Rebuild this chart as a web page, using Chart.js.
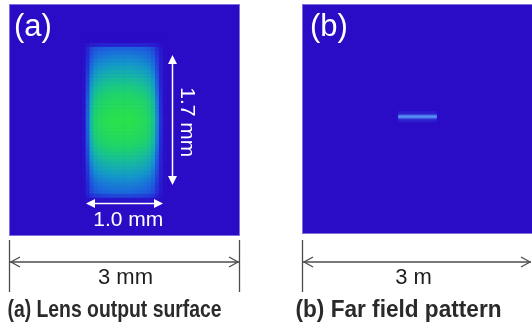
<!DOCTYPE html>
<html>
<head>
<meta charset="utf-8">
<script src="https://cdn.jsdelivr.net/npm/chart.js@4.4.1/dist/chart.umd.min.js"></script>
<style>
  html, body { margin: 0; padding: 0; background: #fff; }
  #wrap { position: relative; width: 532px; height: 331px; overflow: hidden; background: #fff; }
  #boxA { position: absolute; left: 0; top: 0; width: 250px; height: 331px; }
  #boxB { position: absolute; left: 293px; top: 0; width: 240px; height: 331px; }
</style>
</head>
<body>
<div id="wrap">
  <div id="boxA"><canvas id="chartA" width="250" height="331"></canvas></div>
  <div id="boxB"><canvas id="chartB" width="240" height="331"></canvas></div>
</div>
<script>
// panel texts
const panelLabels = ['(a)', '(b)'];
const captions = ['(a) Lens output surface', '(b) Far field pattern'];
const sizeLabels = ['3 mm', '3 m'];
const spotLabels = ['1.0 mm', '1.7 mm'];

// (a) spot on the lens surface, 0.05 mm cells, intensity
const cellMm = 0.05;
const spotColStart = 0.95;   // mm, first column edge
const spotRowStart = 0.45;   // mm, first row edge (from top)
const spotColProfile = [0.05, 0.4, 0.72, 0.86, 0.92, 0.95, 0.97, 0.99, 1.0, 1.0, 1.0,
                        1.0, 1.0, 0.99, 0.97, 0.95, 0.92, 0.87, 0.77, 0.52, 0.22, 0.03];
const spotRowProfile = [0.0, 0.15, 0.4, 0.44, 0.48, 0.52, 0.56, 0.6, 0.64, 0.68, 0.72,
                        0.76, 0.8, 0.84, 0.87, 0.9, 0.93, 0.95, 0.97, 0.98, 1.0, 1.0,
                        0.99, 0.98, 0.96, 0.94, 0.91, 0.88, 0.84, 0.8, 0.76, 0.72, 0.68,
                        0.64, 0.6, 0.56, 0.52, 0.48, 0.45, 0.42, 0.3, 0.06];

// (b) far field line, metres
const farLineX = [1.25, 1.75];
const farLineY = [1.47, 1.47];

const bgBlue = 'rgb(42,12,198)';
const colorStops = [
  [0.0, [42, 12, 198]],
  [0.2, [38, 42, 212]],
  [0.4, [28, 100, 222]],
  [0.55, [20, 150, 202]],
  [0.7, [22, 185, 160]],
  [0.85, [30, 210, 110]],
  [1.0, [42, 224, 78]]
];

const heatColor = (t) => {
  t = Math.max(0, Math.min(1, t));
  for (let i = 1; i < colorStops.length; i++) {
    const [t1, c1] = colorStops[i];
    const [t0, c0] = colorStops[i - 1];
    if (t <= t1) {
      const f = (t - t0) / (t1 - t0);
      const c = c0.map((v, k) => Math.round(v + (c1[k] - v) * f));
      return `rgb(${c[0]},${c[1]},${c[2]})`;
    }
  }
  return 'rgb(42,224,78)';
};

const drawArrowHead = (ctx, x, y, dx, dy, len, half) => {
  ctx.beginPath();
  ctx.moveTo(x, y);
  ctx.lineTo(x - dx * len - dy * half, y - dy * len + dx * half);
  ctx.lineTo(x - dx * len + dy * half, y - dy * len - dx * half);
  ctx.closePath();
  ctx.fill();
};

const drawChevron = (ctx, x, y, dir) => {
  ctx.beginPath();
  ctx.moveTo(x - dir * 9, y - 5);
  ctx.lineTo(x, y);
  ctx.lineTo(x - dir * 9, y + 5);
  ctx.stroke();
};

// paints the blue panel behind the data
const panelBg = {
  id: 'panelBg',
  beforeDatasetsDraw(chart) {
    const { ctx, chartArea: a } = chart;
    ctx.save();
    ctx.fillStyle = bgBlue;
    ctx.fillRect(a.left, a.top, a.right - a.left, a.bottom - a.top);
    ctx.strokeStyle = 'rgba(150,140,225,0.8)';
    ctx.lineWidth = 1;
    ctx.strokeRect(a.left + 0.5, a.top + 0.5, a.right - a.left - 1, a.bottom - a.top - 1);
    ctx.restore();
  }
};

// dimension line + caption below a panel
const makeFooter = (idx, hasRightTick, textShift, capShift, capWidth) => ({
  id: 'footer' + idx,
  afterDraw(chart) {
    const { ctx, chartArea: a, width } = chart;
    const right = hasRightTick ? a.right : width - 1;
    ctx.save();
    ctx.strokeStyle = '#4d4d4d';
    ctx.lineWidth = 1.3;
    ctx.beginPath();
    ctx.moveTo(a.left + 0.5, 240);
    ctx.lineTo(a.left + 0.5, 292);
    if (hasRightTick) {
      ctx.moveTo(a.right - 0.5, 240);
      ctx.lineTo(a.right - 0.5, 292);
    }
    ctx.moveTo(a.left + 1, 262);
    ctx.lineTo(right - 1, 262);
    ctx.stroke();
    drawChevron(ctx, a.left + 2, 262, -1);
    drawChevron(ctx, right - 2, 262, 1);

    const cx = (a.left + a.right) / 2;
    ctx.fillStyle = '#1e1e1e';
    ctx.textAlign = 'center';
    ctx.textBaseline = 'middle';
    ctx.font = '22px "Liberation Sans", Arial, sans-serif';
    ctx.fillText(sizeLabels[idx], cx + textShift, 278);

    // caption: condensed face, squeezed to the width seen in the picture
    ctx.font = 'bold 23px "Liberation Sans", Arial, sans-serif';
    const w = ctx.measureText(captions[idx]).width;
    ctx.translate(cx + capShift, 311);
    ctx.scale(capWidth / w, 1);
    ctx.fillStyle = '#2a2a2a';
    ctx.fillText(captions[idx], 0, 0);
    ctx.restore();
  }
});

// white marks inside panel (a)
const spotMarks = {
  id: 'spotMarks',
  afterDatasetsDraw(chart) {
    const { ctx, chartArea: a, scales } = chart;
    const xs = scales.x, ys = scales.y;
    ctx.save();
    ctx.fillStyle = '#fff';
    ctx.strokeStyle = '#fff';
    ctx.lineWidth = 1.5;
    ctx.font = '31px "Liberation Sans", Arial, sans-serif';
    ctx.textAlign = 'left';
    ctx.textBaseline = 'middle';
    ctx.fillText(panelLabels[0], a.left + 5, a.top + 23);

    // 1.7 mm arrow
    const vx = Math.round(xs.getPixelForValue(2.12)) + 0.5;
    const vy0 = ys.getPixelForValue(0.66), vy1 = ys.getPixelForValue(2.34);
    ctx.beginPath();
    ctx.moveTo(vx, vy0 + 6);
    ctx.lineTo(vx, vy1 - 6);
    ctx.stroke();
    drawArrowHead(ctx, vx, vy0, 0, -1, 9, 4.5);
    drawArrowHead(ctx, vx, vy1, 0, 1, 9, 4.5);
    ctx.save();
    ctx.translate(xs.getPixelForValue(2.31), ys.getPixelForValue(1.53));
    ctx.rotate(Math.PI / 2);
    ctx.font = '21px "Liberation Sans", Arial, sans-serif';
    ctx.textAlign = 'center';
    ctx.fillText(spotLabels[1], 0, 0);
    ctx.restore();

    // 1.0 mm arrow
    const hy = Math.round(ys.getPixelForValue(2.57)) + 0.5;
    const hx0 = xs.getPixelForValue(1.0), hx1 = xs.getPixelForValue(2.0);
    ctx.beginPath();
    ctx.moveTo(hx0 + 6, hy);
    ctx.lineTo(hx1 - 6, hy);
    ctx.stroke();
    drawArrowHead(ctx, hx0, hy, -1, 0, 9, 4.5);
    drawArrowHead(ctx, hx1, hy, 1, 0, 9, 4.5);
    ctx.font = '21px "Liberation Sans", Arial, sans-serif';
    ctx.textAlign = 'center';
    ctx.fillText(spotLabels[0], xs.getPixelForValue(1.55), ys.getPixelForValue(2.8));
    ctx.restore();
  }
};

const labelB = {
  id: 'labelB',
  afterDatasetsDraw(chart) {
    const { ctx, chartArea: a } = chart;
    ctx.save();
    ctx.fillStyle = '#fff';
    ctx.font = '31px "Liberation Sans", Arial, sans-serif';
    ctx.textBaseline = 'middle';
    ctx.fillText(panelLabels[1], a.left + 8, a.top + 23);
    ctx.restore();
  }
};

const hiddenAxes = {
  x: { type: 'linear', min: 0, max: 3, display: false, offset: false },
  y: { type: 'linear', min: 0, max: 3, reverse: true, display: false }
};

// one bar dataset per row of the spot
const spotDatasets = spotRowProfile.map((rowVal, r) => {
  const y0 = spotRowStart + r * cellMm;
  return {
    data: spotColProfile.map((colVal, c) => ({
      x: spotColStart + (c + 0.5) * cellMm,
      y: [y0, y0 + cellMm]
    })),
    backgroundColor: spotColProfile.map(colVal => heatColor(rowVal * colVal)),
    borderWidth: 0,
    grouped: false,
    barPercentage: 1,
    categoryPercentage: 1
  };
});

const chartA = new Chart(document.getElementById('chartA').getContext('2d'), {
  type: 'bar',
  data: { datasets: spotDatasets },
  options: {
    responsive: false,
    animation: false,
    devicePixelRatio: 1,
    layout: { padding: { left: 9, top: 4, right: 10, bottom: 95 } },
    scales: hiddenAxes,
    plugins: { legend: { display: false }, tooltip: { enabled: false } }
  },
  plugins: [panelBg, spotMarks, makeFooter(0, true, 1, -10, 214)]
});

const farPoints = farLineX.map((x, i) => ({ x: x, y: farLineY[i] }));

const chartB = new Chart(document.getElementById('chartB').getContext('2d'), {
  type: 'scatter',
  data: {
    datasets: [
      { data: farPoints, showLine: true, borderColor: 'rgba(60,90,228,0.22)', borderWidth: 11, pointRadius: 0 },
      { data: farPoints, showLine: true, borderColor: 'rgba(75,130,245,0.6)', borderWidth: 5, pointRadius: 0 },
      { data: farPoints, showLine: true, borderColor: 'rgb(125,205,255)', borderWidth: 2.2, pointRadius: 0 }
    ]
  },
  options: {
    responsive: false,
    animation: false,
    devicePixelRatio: 1,
    layout: { padding: { left: 9, top: 4, right: 0, bottom: 97 } },
    scales: hiddenAxes,
    plugins: { legend: { display: false }, tooltip: { enabled: false } }
  },
  plugins: [panelBg, labelB, makeFooter(1, false, -4, -19, 206)]
});
</script>
</body>
</html>
